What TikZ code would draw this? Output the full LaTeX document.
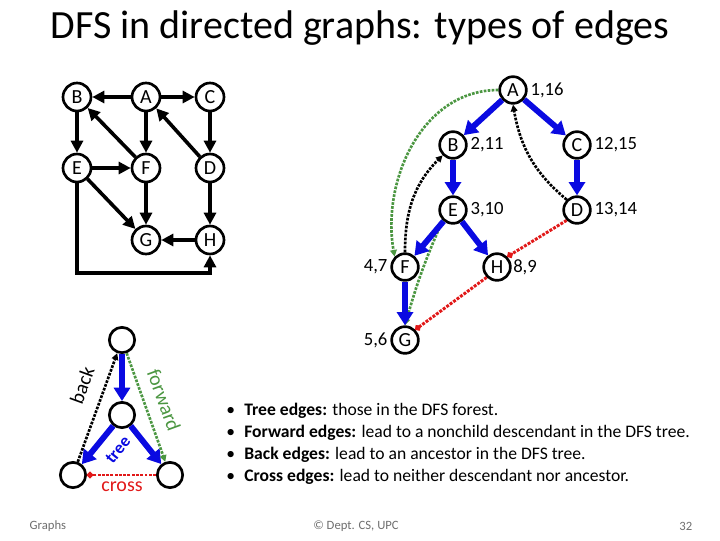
\documentclass[tikz,border=0pt]{standalone}
\usepackage{fontspec}
\setmainfont{Carlito}
\usetikzlibrary{arrows.meta}
\definecolor{treecol}{RGB}{10,10,225}
\definecolor{fwdcol}{RGB}{75,150,65}
\definecolor{crosscol}{RGB}{225,25,25}
\definecolor{footcol}{RGB}{110,110,110}
\tikzset{
  vertex/.style={circle, draw, line width=2pt, fill=white, minimum size=20pt, inner sep=0pt, font=\fontsize{15}{15}\selectfont},
  bigvertex/.style={vertex, minimum size=21pt},
  keyvertex/.style={vertex, minimum size=19pt},
  plain/.style={line width=2.7pt, -{Triangle[length=9pt,width=9pt]}},
  treeedge/.style={treecol, line width=4.4pt, -{Triangle[length=10pt,width=12pt]}},
  backedge/.style={black, line width=2pt, densely dotted, -{Triangle[length=5pt,width=5pt]}},
  fwdedge/.style={fwdcol, line width=2pt, densely dotted, -{Triangle[length=5pt,width=5pt]}},
  crossedge/.style={crosscol, line width=2.2pt, densely dotted, -{Circle[length=4.5pt]}},
  stamp/.style={font=\fontsize{14}{14}\selectfont, inner sep=1pt},
  keylabel/.style={font=\fontsize{15}{15}\selectfont, inner sep=0pt}
}

\begin{document}
\begin{tikzpicture}[x=0.75pt, y=-0.75pt]
  \useasboundingbox (0,0) rectangle (720,540);

  \node[font=\fontsize{30}{30}\selectfont] (title) at (360,28) {DFS in directed graphs: types of edges};

  % the graph
  \node[bigvertex] (gB) at (77,97) {B};
  \node[bigvertex] (gA) at (146,97) {A};
  \node[bigvertex] (gC) at (210,97) {C};
  \node[bigvertex] (gE) at (77,168) {E};
  \node[bigvertex] (gF) at (146,168) {F};
  \node[bigvertex] (gD) at (210,168) {D};
  \node[bigvertex] (gG) at (146,240) {G};
  \node[bigvertex] (gH) at (210,240) {H};
  \coordinate (gbot) at (143,273);

  \draw[plain] (gA) -- (gB);
  \draw[plain] (gA) -- (gC);
  \draw[plain] (gA) -- (gF);
  \draw[plain] (gF) -- (gB);
  \draw[plain] (gD) -- (gA);
  \draw[plain] (gB) -- (gE);
  \draw[plain] (gC) -- (gD);
  \draw[plain] (gE) -- (gF);
  \draw[plain] (gE) -- (gG);
  \draw[plain] (gF) -- (gG);
  \draw[plain] (gD) -- (gH);
  \draw[plain] (gH) -- (gG);
  \draw[plain] (gE) |- (gbot) -| (gH);

  % the DFS tree
  \node[vertex] (tA) at (513,90) {A};
  \node[vertex] (tB) at (453,145) {B};
  \node[vertex] (tC) at (577,145) {C};
  \node[vertex] (tE) at (453,210) {E};
  \node[vertex] (tD) at (577,210) {D};
  \node[vertex] (tF) at (405,267) {F};
  \node[vertex] (tH) at (497,267) {H};
  \node[vertex] (tG) at (405,340) {G};

  \node[stamp, anchor=west, xshift=1pt] (sA) at (tA.east) {1,16};
  \node[stamp, anchor=west, xshift=1pt] (sB) at (tB.east) {2,11};
  \node[stamp, anchor=west, xshift=1pt] (sC) at (tC.east) {12,15};
  \node[stamp, anchor=west, xshift=1pt] (sE) at (tE.east) {3,10};
  \node[stamp, anchor=west, xshift=1pt] (sD) at (tD.east) {13,14};
  \node[stamp, anchor=east, xshift=-1pt] (sF) at (tF.west) {4,7};
  \node[stamp, anchor=west, xshift=0pt] (sH) at (tH.east) {8,9};
  \node[stamp, anchor=east, xshift=-1pt] (sG) at (tG.west) {5,6};

  \draw[fwdedge] (tA.west) to[out=180, in=100] (tF.north west);
  \draw[fwdedge] (tE.south west) to[bend right=4] (tG.north);
  \draw[backedge] (tF.north) to[out=90, in=225] (tB.south west);
  \draw[backedge] (tD.north west) to[out=140, in=-80] (tA.south);
  \draw[crossedge] (tD.south west) -- (tH.north east);
  \draw[crossedge] (tH.south west) -- (tG.north east);

  \draw[treeedge] (tA) -- (tB);
  \draw[treeedge] (tA) -- (tC);
  \draw[treeedge] (tB) -- (tE);
  \draw[treeedge] (tC) -- (tD);
  \draw[treeedge] (tE) -- (tF);
  \draw[treeedge] (tE) -- (tH);
  \draw[treeedge] (tF) -- (tG);

  % legend
  \node[keyvertex] (kT) at (122,340) {};
  \node[keyvertex] (kM) at (122,415) {};
  \node[keyvertex] (kL) at (73,475) {};
  \node[keyvertex] (kR) at (170,475) {};

  \draw[treeedge] (kT) -- (kM);
  \draw[treeedge] (kM) -- (kL);
  \draw[treeedge] (kM) -- (kR);
  \draw[backedge] (kL) -- (kT);
  \draw[fwdedge] (kT) -- (kR);
  \draw[crossedge] (kR) -- (kL);

  \node[keylabel, treecol, rotate=51, font=\fontsize{13}{13}\selectfont\bfseries] (ltree) at (118,450) {tree};
  \node[keylabel, rotate=70] (lback) at (82,385) {back};
  \node[keylabel, fwdcol, rotate=-70] (lfwd) at (164,400) {forward};
  \node[keylabel, crosscol] (lcross) at (122,487) {cross};

  % the four kinds
  \node[anchor=north west, inner sep=0pt, font=\fontsize{13.2}{16.5}\selectfont] (kinds) at (226,400) {%
    \begin{tabular}{@{}l@{\hspace{7pt}}l@{}}
      \textbullet & \textbf{Tree edges:} those in the DFS forest.\\
      \textbullet & \textbf{Forward edges:} lead to a nonchild descendant in the DFS tree.\\
      \textbullet & \textbf{Back edges:} lead to an ancestor in the DFS tree.\\
      \textbullet & \textbf{Cross edges:} lead to neither descendant nor ancestor.
    \end{tabular}};

  % footer
  \node[footcol, anchor=west, font=\fontsize{9.5}{9.5}\selectfont] (foot1) at (25,526) {Graphs};
  \node[footcol, font=\fontsize{9.5}{9.5}\selectfont] (foot2) at (356,526) {© Dept. CS, UPC};
  \node[footcol, anchor=east, font=\fontsize{9.5}{9.5}\selectfont] (foot3) at (697,526) {32};
\end{tikzpicture}
\end{document}
